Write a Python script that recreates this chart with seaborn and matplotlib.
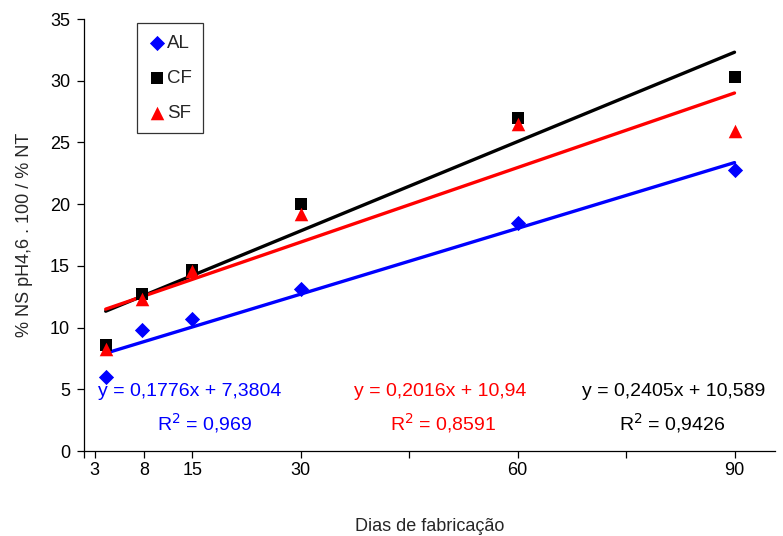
import matplotlib
matplotlib.use("Agg")
import matplotlib.pyplot as plt
import seaborn as sns
import pandas as pd

days = [3, 8, 15, 30, 60, 90]
al = [6.0, 9.8, 10.7, 13.1, 18.5, 22.8]
cf = [8.6, 12.7, 14.7, 20.0, 27.0, 30.3]
sf = [8.3, 12.3, 14.6, 19.2, 26.5, 25.9]
series_names = ["AL", "CF", "SF"]
eq_series = ["AL", "SF", "CF"]
eq_texts = [("y = 0,1776x + 7,3804", "R$^2$ = 0,969"),
            ("y = 0,2016x + 10,94", "R$^2$ = 0,8591"),
            ("y = 0,2405x + 10,589", "R$^2$ = 0,9426")]
x_tick_pos = [0, 1.5, 8.3, 15, 30, 45, 60, 75, 90]
x_tick_labels = ["", "3", "8", "15", "30", "", "60", "", "90"]

df = pd.DataFrame({
    "dias": days * 3,
    "valor": al + cf + sf,
    "serie": ["AL"] * 6 + ["CF"] * 6 + ["SF"] * 6,
})

colors = {"AL": "#0000FF", "CF": "#000000", "SF": "#FF0000"}
markers = {"AL": "D", "CF": "s", "SF": "^"}
sizes = {"AL": 60, "CF": 75, "SF": 95}

sns.set_theme(style="white")
plt.rcParams["font.family"] = ["Liberation Sans", "DejaVu Sans"]

fig = plt.figure(figsize=(7.83, 5.36), dpi=100)
ax = fig.add_axes([84 / 783, 1 - 451 / 536, (775 - 84) / 783, (451 - 19) / 536])

# regression lines
for name in series_names:
    sub = df[df.serie == name]
    sns.regplot(data=sub, x="dias", y="valor", scatter=False, ci=None, ax=ax,
                color=colors[name], line_kws={"linewidth": 2.4, "zorder": 2})

# markers
for name in series_names:
    sub = df[df.serie == name]
    sns.scatterplot(data=sub, x="dias", y="valor", marker=markers[name],
                    color=colors[name], s=sizes[name], linewidth=0, ax=ax,
                    label=name, zorder=3)

ax.set_xlim(0, 95.6)
ax.set_ylim(0, 35)
ax.set_yticks(range(0, 36, 5))
ax.set_xticks(x_tick_pos)
ax.set_xticklabels(x_tick_labels)
ax.set_xlabel("Dias de fabricação", fontsize=13, labelpad=28)
ax.set_ylabel("% NS pH4,6 . 100 / % NT", fontsize=13, labelpad=12)

for s in ["top", "right"]:
    ax.spines[s].set_visible(False)
for s in ["left", "bottom"]:
    ax.spines[s].set_color("black")
    ax.spines[s].set_linewidth(0.9)
ax.tick_params(axis="both", which="both", direction="out", length=5, width=0.9,
               color="black", labelsize=13, labelcolor="black",
               bottom=True, left=True)
ax.tick_params(axis="x", pad=3)
ax.tick_params(axis="y", pad=5)

# equations
eq_x = [190, 440, 674]
r2_x = [205, 443, 672]
for (eq, r2), cx, rx, name in zip(eq_texts, eq_x, r2_x, eq_series):
    ax.text((cx - 84) / (775 - 84), (451 - 391) / 432, eq, transform=ax.transAxes,
            ha="center", va="center", fontsize=14, color=colors[name])
    ax.text((rx - 84) / (775 - 84), (451 - 423) / 432, r2, transform=ax.transAxes,
            ha="center", va="center", fontsize=14, color=colors[name])

leg = ax.legend(loc="upper left", bbox_to_anchor=(0.077, 0.99), frameon=True,
                fontsize=13.5, labelspacing=0.95, handletextpad=0.1,
                handlelength=0.9, borderpad=0.6, borderaxespad=0,
                fancybox=False, edgecolor="black")
leg.get_frame().set_linewidth(0.9)

fig.savefig("out.png", dpi=100)
